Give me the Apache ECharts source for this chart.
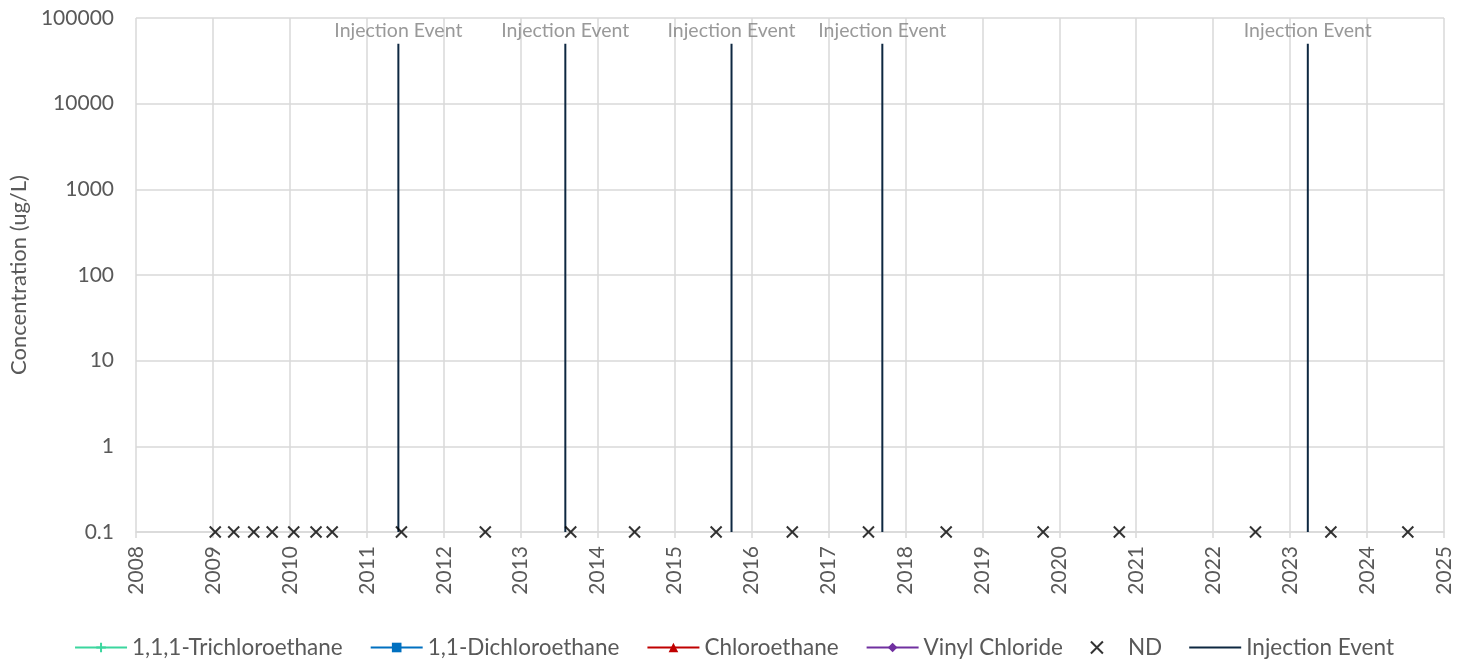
<!DOCTYPE html>
<html>
<head>
<meta charset="utf-8">
<script src="https://cdn.jsdelivr.net/npm/echarts@6/dist/echarts.min.js"></script>
<style>
html,body{margin:0;padding:0;background:#fff;}
#chart{width:1468px;height:662px;}
</style>
</head>
<body>
<div id="chart"></div>
<script>
// ---- Data (decimal years) ----
var yearTicks = [2008,2009,2010,2011,2012,2013,2014,2015,2016,2017,2018,2019,2020,2021,2022,2023,2024,2025];
var ndYears = [2009.03,2009.27,2009.53,2009.77,2010.05,2010.34,2010.55,2011.45,2012.54,2013.65,
               2014.48,2015.54,2016.53,2017.52,2018.53,2019.79,2020.78,2022.55,2023.53,2024.53];
var ndValue = 0.1;
var injectionYears = [2011.41,2013.58,2015.74,2017.70,2023.23];
var injectionBottom = 0.1;
var injectionTop = 50000;
var injectionLabel = 'Injection Event';
var trichloroethane = [];
var dichloroethane = [];
var chloroethane = [];
var vinylChloride = [];

var FONT = 'Lato';
var axisText = '#595959';
var injColor = '#0E2841';

var series = [
  {name:'1,1,1-Trichloroethane', type:'line', data:trichloroethane,
   symbol:'path://M5,0L5,10M0,5L10,5', symbolSize:10,
   lineStyle:{color:'#3BD69E', width:2},
   itemStyle:{color:'#3BD69E', borderColor:'#3BD69E', borderWidth:1.5}},
  {name:'1,1-Dichloroethane', type:'line', data:dichloroethane,
   symbol:'rect', symbolSize:7,
   lineStyle:{color:'#0070C0', width:2}, itemStyle:{color:'#0070C0'}},
  {name:'Chloroethane', type:'line', data:chloroethane,
   symbol:'triangle', symbolSize:10,
   lineStyle:{color:'#C00000', width:2}, itemStyle:{color:'#C00000'}},
  {name:'Vinyl Chloride', type:'line', data:vinylChloride,
   symbol:'diamond', symbolSize:10,
   lineStyle:{color:'#7030A0', width:2}, itemStyle:{color:'#7030A0'}}
];

var injSeries = injectionYears.map(function(y){
  return {
    name:'Injection Event', type:'line', symbol:'none', z:3,
    lineStyle:{color:injColor, width:2}, itemStyle:{color:injColor},
    data:[[y, injectionBottom],[y, injectionTop]],
    emphasis:{disabled:true}
  };
});

var injLabelSeries = {
  name:'injLabels', type:'scatter', symbolSize:0, silent:true, z:4,
  data: injectionYears.map(function(y){return [y, injectionTop];}),
  label:{show:true, position:'top', distance:3, formatter:injectionLabel,
         color:'#808080', fontSize:19.5, fontFamily:FONT},
  itemStyle:{color:'rgba(0,0,0,0)'}
};

var ndSeries = {
  name:'ND', type:'scatter',
  data: ndYears.map(function(y){return [y, ndValue];}),
  symbol:'path://M0,0L10,10M10,0L0,10', symbolSize:11,
  itemStyle:{color:'rgba(0,0,0,0)', borderColor:'#000', borderWidth:2},
  z:5
};

var option = {
  animation:false,
  textStyle:{fontFamily:FONT},
  grid:{left:136, right:24, top:18, bottom:130, containLabel:false},
  xAxis:{
    type:'value', min:yearTicks[0], max:yearTicks[yearTicks.length-1], interval:1,
    axisLine:{show:true, lineStyle:{color:'#d9d9d9', width:1.5}},
    axisTick:{show:true, length:6, lineStyle:{color:'#d9d9d9', width:1.5}},
    splitLine:{show:true, lineStyle:{color:'#d9d9d9', width:1.5}},
    axisLabel:{rotate:90, margin:14, color:axisText, fontSize:21, fontFamily:FONT,
      formatter:function(v){return String(v);}}
  },
  yAxis:{
    type:'log', logBase:10, min:0.1, max:100000,
    name:'Concentration (ug/L)', nameLocation:'middle', nameGap:105,
    nameTextStyle:{color:axisText, fontSize:22, fontFamily:FONT},
    axisLine:{show:false}, axisTick:{show:false},
    splitLine:{show:true, lineStyle:{color:'#d9d9d9', width:1.5}},
    axisLabel:{margin:22, color:axisText, fontSize:21, fontFamily:FONT,
      formatter:function(v){return String(+(+v).toPrecision(6));}}
  },
  legend:{
    top:631, left:'center', itemWidth:52, itemHeight:12, itemGap:27,
    textStyle:{color:axisText, fontSize:22.5, fontFamily:FONT},
    data:['1,1,1-Trichloroethane','1,1-Dichloroethane','Chloroethane','Vinyl Chloride','ND',
          {name:'Injection Event', icon:'path://M0,0L52,0L52,2L0,2Z', itemStyle:{color:injColor}}]
  },
  series: series.concat(injSeries).concat([injLabelSeries, ndSeries])
};
var chart = echarts.init(document.getElementById('chart'), null, {renderer:'canvas'});
chart.setOption(option);
</script>
</body>
</html>
